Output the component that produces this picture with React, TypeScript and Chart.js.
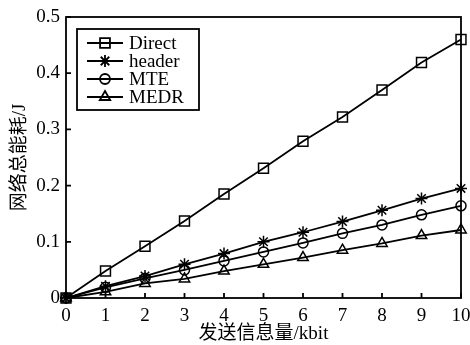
import React, { useEffect, useRef } from "react";
import { Chart, registerables } from "chart.js";
import { drawPoint } from "chart.js/helpers";

Chart.register(...registerables);

const xValues = [0, 1, 2, 3, 4, 5, 6, 7, 8, 9, 10];
const directValues = [0, 0.048, 0.092, 0.137, 0.185, 0.231, 0.279, 0.322, 0.37, 0.419, 0.46];
const headerValues = [0, 0.021, 0.039, 0.06, 0.079, 0.1, 0.117, 0.136, 0.156, 0.177, 0.195];
const mteValues = [0, 0.019, 0.035, 0.05, 0.066, 0.082, 0.098, 0.115, 0.13, 0.148, 0.164];
const medrValues = [0, 0.011, 0.026, 0.034, 0.048, 0.06, 0.072, 0.085, 0.097, 0.111, 0.121];
const seriesNames = ["Direct", "header", "MTE", "MEDR"];
const xTitle = "发送信息量/kbit";
const yTitle = "网络总能耗/J";

const FONT = "'Liberation Serif', 'Times New Roman', 'Noto Sans CJK SC', serif";
const FS = 19;
const LW = 1.8;

const styles: { pointStyle: any; radius: number }[] = [
  { pointStyle: "rect", radius: 7 },
  { pointStyle: "star", radius: 6 },
  { pointStyle: "circle", radius: 5 },
  { pointStyle: "triangle", radius: 6 },
];

const framePlugin = {
  id: "frameAndLegend",
  afterDraw(chart: any) {
    const { ctx, chartArea } = chart;
    const { left, right, top, bottom } = chartArea;
    const xs = chart.scales.x;
    const ys = chart.scales.y;
    ctx.save();
    ctx.strokeStyle = "#000";
    ctx.lineWidth = LW;
    ctx.strokeRect(left, top, right - left, bottom - top);
    ctx.beginPath();
    xs.ticks.forEach((t: any) => {
      const px = xs.getPixelForValue(t.value);
      ctx.moveTo(px, bottom);
      ctx.lineTo(px, bottom - 5);
    });
    ys.ticks.forEach((t: any) => {
      const py = ys.getPixelForValue(t.value);
      ctx.moveTo(left, py);
      ctx.lineTo(left + 5, py);
    });
    ctx.stroke();

    // legend
    const bx = left + 11;
    const by = top + 12;
    const bw = 122;
    const bh = 81;
    ctx.fillStyle = "#fff";
    ctx.fillRect(bx, by, bw, bh);
    ctx.lineWidth = LW;
    ctx.strokeRect(bx, by, bw, bh);
    ctx.font = `${FS}px ${FONT}`;
    ctx.textBaseline = "middle";
    ctx.textAlign = "left";
    chart.data.datasets.forEach((ds: any, i: number) => {
      const cy = by + 14 + i * 18;
      ctx.strokeStyle = "#000";
      ctx.lineWidth = LW;
      ctx.beginPath();
      ctx.moveTo(bx + 10, cy);
      ctx.lineTo(bx + 46, cy);
      ctx.stroke();
      ctx.fillStyle = "rgba(0,0,0,0)";
      drawPoint(ctx, { pointStyle: ds.pointStyle, radius: ds.pointRadius, rotation: 0, borderWidth: 1.5 } as any, bx + 28, cy);
      ctx.fillStyle = "#000";
      ctx.fillText(ds.label, bx + 52, cy + 1);
    });
    ctx.restore();
  },
};

export default function App() {
  const ref = useRef<HTMLCanvasElement>(null);
  useEffect(() => {
    if (!ref.current) return;
    const all = [directValues, headerValues, mteValues, medrValues];
    const chart = new Chart(ref.current, {
      type: "line",
      data: {
        datasets: all.map((vals, i) => ({
          label: seriesNames[i],
          data: xValues.map((x, j) => ({ x, y: vals[j] })),
          borderColor: "#000",
          borderWidth: LW,
          pointStyle: styles[i].pointStyle,
          pointRadius: styles[i].radius,
          pointBorderWidth: 1.5,
          pointBorderColor: "#000",
          pointBackgroundColor: "rgba(0,0,0,0)",
          tension: 0,
          fill: false,
          clip: false,
        })),
      },
      options: {
        responsive: false,
        animation: false,
        layout: { padding: { left: 0, right: 9, top: 17, bottom: 0 } },
        plugins: { legend: { display: false }, tooltip: { enabled: false } },
        scales: {
          x: {
            type: "linear",
            min: 0,
            max: 10,
            grid: { display: false, drawTicks: false },
            border: { display: false },
            ticks: { stepSize: 1, color: "#000", padding: 7, font: { family: FONT, size: FS } },
            title: { display: true, text: xTitle, color: "#000", padding: { top: 0, bottom: 0 }, font: { family: FONT, size: FS } },
            afterFit: (s: any) => { s.height = 47; s.paddingLeft = 0; s.paddingRight = 0; },
          },
          y: {
            type: "linear",
            min: 0,
            max: 0.5,
            grid: { display: false, drawTicks: false },
            border: { display: false },
            ticks: {
              stepSize: 0.1,
              color: "#000",
              padding: 6,
              font: { family: FONT, size: FS },
              callback: (v: any) => (v === 0 ? "0" : Number(v).toFixed(1)),
            },
            title: { display: true, text: yTitle, color: "#000", padding: { top: 9, bottom: 0 }, font: { family: FONT, size: FS } },
            afterFit: (s: any) => { s.width = 66; s.paddingTop = 0; s.paddingBottom = 0; },
          },
        },
      },
      plugins: [framePlugin],
    });
    return () => chart.destroy();
  }, []);
  return (
    <div style={{ position: "absolute", left: 0, top: 0, width: 470, height: 345, background: "#fff" }}>
      <canvas ref={ref} width={470} height={345} />
    </div>
  );
}
